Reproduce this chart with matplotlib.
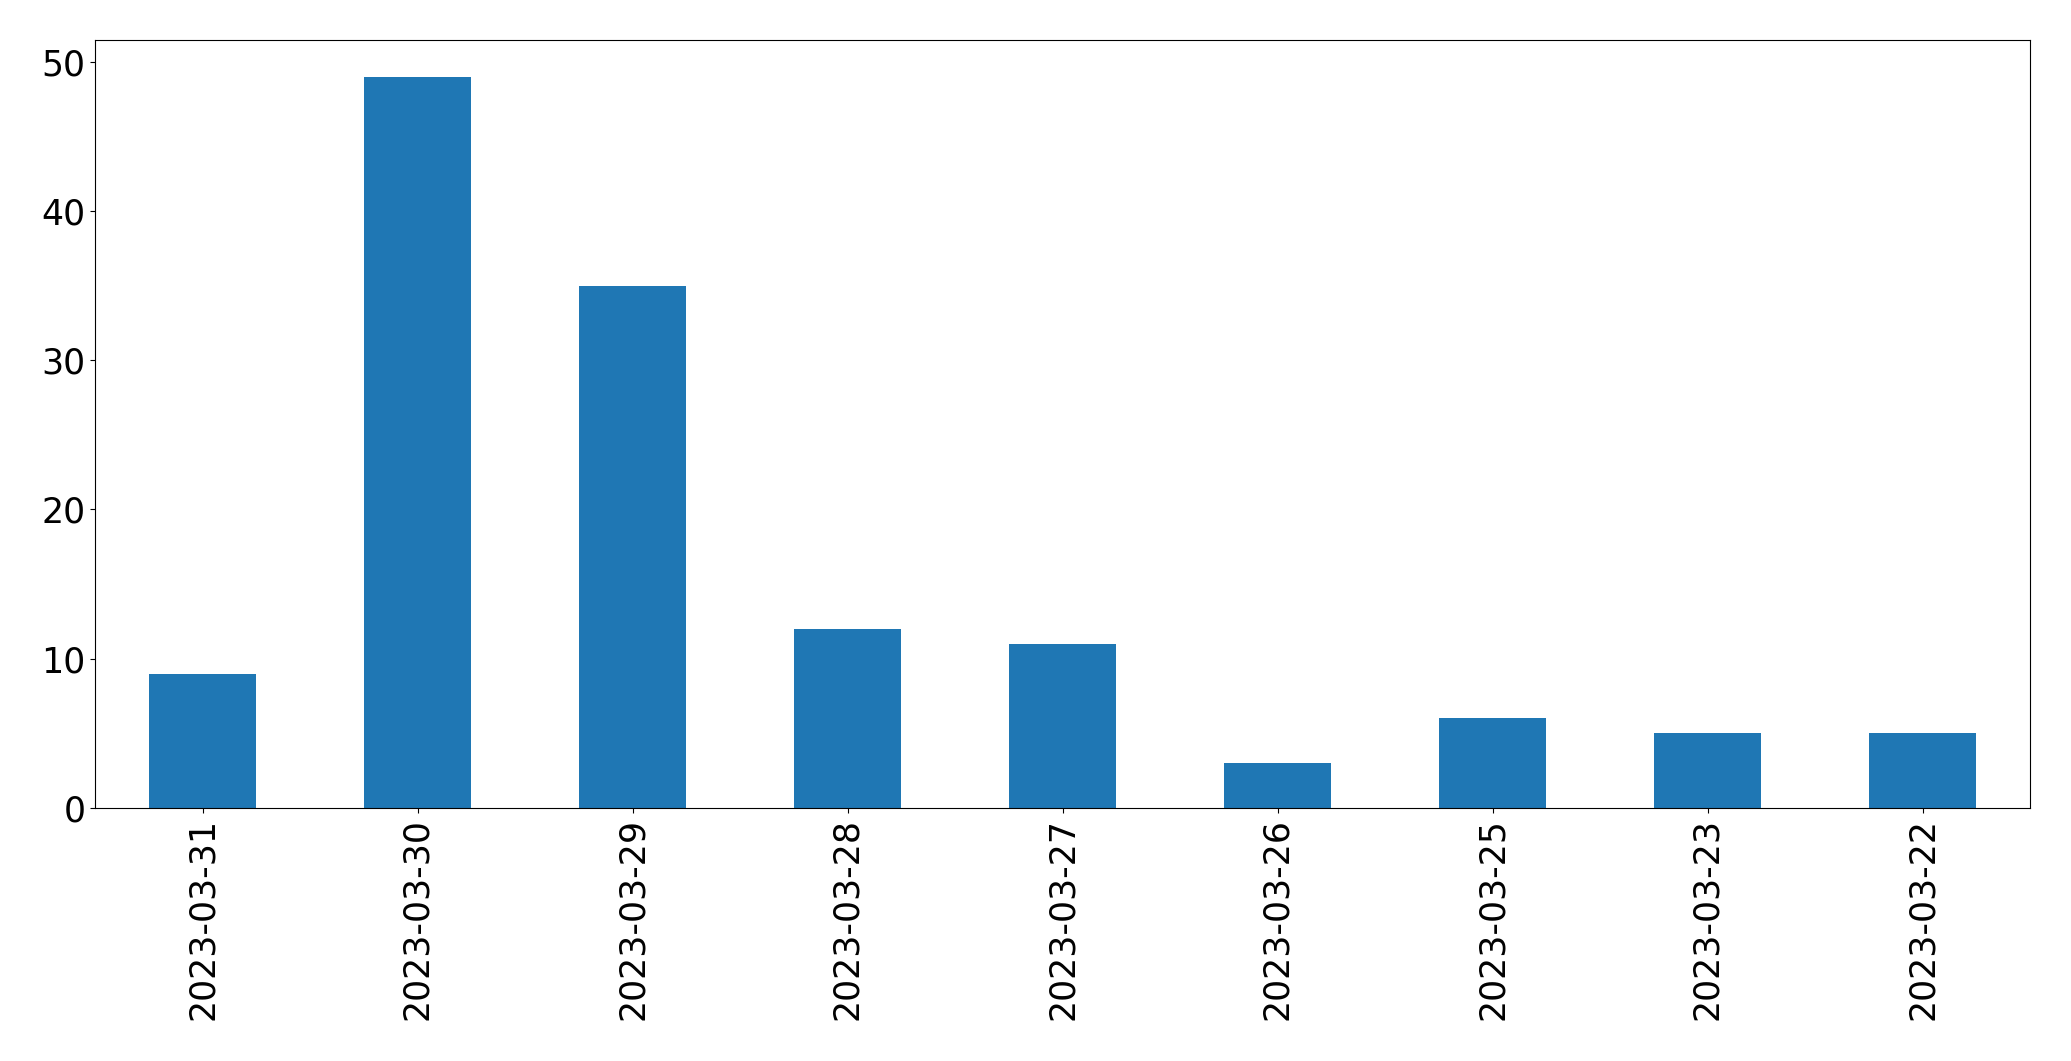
import matplotlib
matplotlib.use('Agg')
import matplotlib.pyplot as plt
import pandas as pd

dates = ['2023-03-31', '2023-03-30', '2023-03-29', '2023-03-28', '2023-03-27',
         '2023-03-26', '2023-03-25', '2023-03-23', '2023-03-22']
counts = [9, 49, 35, 12, 11, 3, 6, 5, 5]

plt.rcParams['font.size'] = 25

s = pd.Series(counts, index=dates)
fig = plt.figure(figsize=(20.71, 10.61), dpi=100)
ax = fig.add_axes([95 / 2071, 1 - 808 / 1061, (2030 - 95) / 2071, (808 - 40) / 1061])
s.plot(kind='bar', ax=ax, color='#1f77b4')
ax.tick_params(axis='both', labelsize=25)

fig.savefig('out.png', dpi=100)
